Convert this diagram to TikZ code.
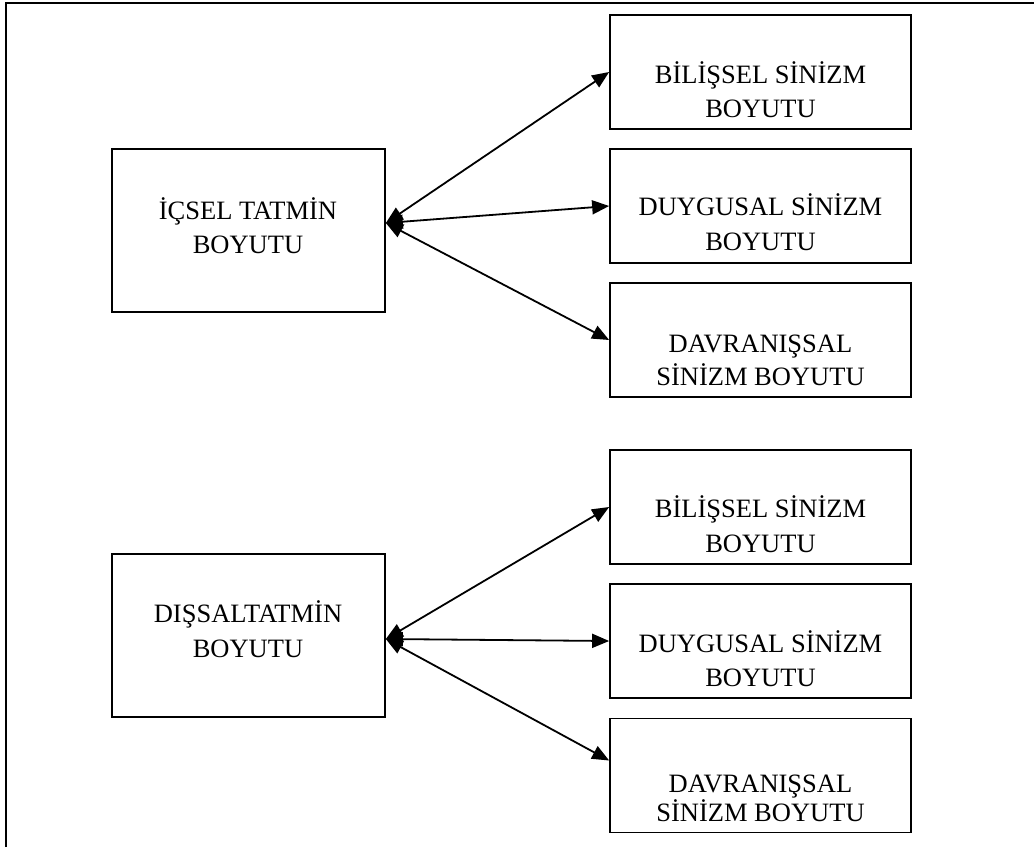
\documentclass[tikz,border=0pt]{standalone}
\usepackage{fontspec}
\setmainfont{Liberation Serif}
\usetikzlibrary{arrows.meta}
\begin{document}
\begin{tikzpicture}[x=1pt,y=-1pt,
  box/.style={draw=black,line width=1.7pt,inner sep=0pt,minimum width=#1},
  lbox/.style={box=273pt,minimum height=163pt},
  rbox/.style={box=301pt,minimum height=114pt},
  txt/.style={anchor=base,inner sep=0pt,font=\fontsize{26.5}{34}\selectfont},
  link/.style={line width=1.8pt,{Triangle[length=17pt,width=14pt]}-{Triangle[length=17pt,width=14pt]}}]
\useasboundingbox (0,0) rectangle (1034,847);
\draw[line width=1.8pt] (6,847) -- (6,3) -- (1034,3);
% boxes
\node[lbox] (L1) at (248.5,230.5) {};
\node[lbox] (L2) at (248.5,635.5) {};
\node[rbox] (R1) at (760.5,72) {};
\node[rbox] (R2) at (760.5,206) {};
\node[rbox] (R3) at (760.5,340) {};
\node[rbox] (R4) at (760.5,507) {};
\node[rbox] (R5) at (760.5,641) {};
\node[rbox] (R6) at (760.5,775.5) {};
% texts
\node[txt] (L1a) at (248,219) {İÇSEL TATMİN};
\node[txt] (L1b) at (248,253) {BOYUTU};
\node[txt] (L2a) at (248,622) {DIŞSALTATMİN};
\node[txt] (L2b) at (248,657) {BOYUTU};
\node[txt] (R1a) at (760.5,83) {BİLİŞSEL SİNİZM};
\node[txt] (R1b) at (760.5,117) {BOYUTU};
\node[txt] (R2a) at (760.5,215) {DUYGUSAL SİNİZM};
\node[txt] (R2b) at (760.5,250) {BOYUTU};
\node[txt] (R3a) at (760.5,352) {DAVRANIŞSAL};
\node[txt] (R3b) at (760.5,385) {SİNİZM BOYUTU};
\node[txt] (R4a) at (760.5,517) {BİLİŞSEL SİNİZM};
\node[txt] (R4b) at (760.5,552) {BOYUTU};
\node[txt] (R5a) at (760.5,652) {DUYGUSAL SİNİZM};
\node[txt] (R5b) at (760.5,686) {BOYUTU};
\node[txt] (R6a) at (760.5,792) {DAVRANIŞSAL};
\node[txt] (R6b) at (760.5,821) {SİNİZM BOYUTU};
% connectors
\coordinate (s1) at ([yshift=7.5pt]L1.east);
\coordinate (s2) at ([yshift=-3.5pt]L2.east);
\draw[link] (s1) -- (R1.west);
\draw[link] (s1) -- (R2.west);
\draw[link] (s1) -- (R3.west);
\draw[link] (s2) -- (R4.west);
\draw[link] (s2) -- (R5.west);
\draw[link] (s2) -- ([yshift=15pt]R6.west);
\end{tikzpicture}
\end{document}
